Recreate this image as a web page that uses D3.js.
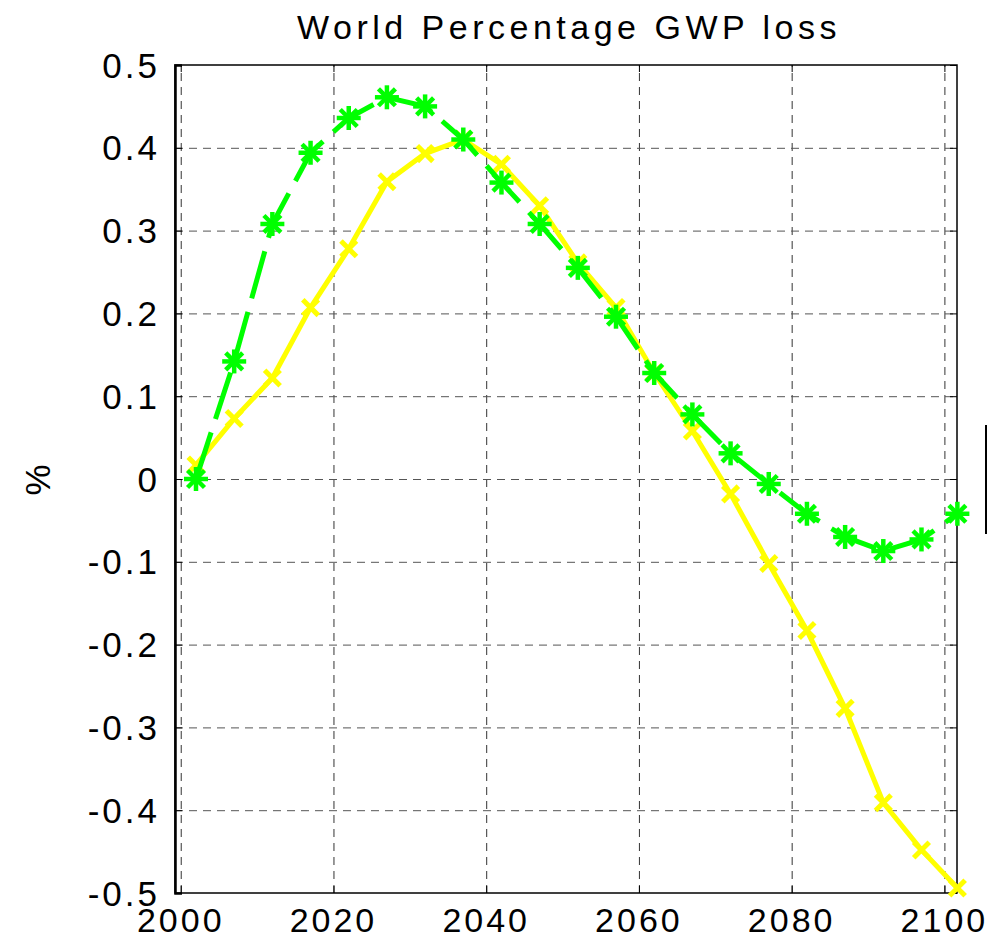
<!DOCTYPE html>
<html>
<head>
<meta charset="utf-8">
<script src="https://cdn.jsdelivr.net/npm/d3@7"></script>
<style>
    body { margin: 0; background: white; }
    text { font-family: "Liberation Sans", Arial, sans-serif; fill: black; }
</style>
</head>
<body>
<div id="gwpChart"></div>
<script>

// data
var years = [2002, 2007, 2012, 2017, 2022, 2027, 2032, 2037, 2042, 2047, 2052,
    2057, 2062, 2067, 2072, 2077, 2082, 2087, 2092, 2097, 2101.7];
var greenLoss = [0, 0.142, 0.308, 0.394, 0.436, 0.461, 0.45, 0.41, 0.358, 0.308, 0.255,
    0.196, 0.128, 0.078, 0.031, -0.006, -0.042, -0.07, -0.087, -0.073, -0.042];
var yellowLoss = [0.017, 0.073, 0.122, 0.207, 0.278, 0.359, 0.393, 0.41, 0.38, 0.33, 0.261,
    0.207, 0.128, 0.058, -0.018, -0.102, -0.183, -0.277, -0.391, -0.448, -0.494];
var xTicks = [2000, 2020, 2040, 2060, 2080, 2100];
var yTicks = [-0.5, -0.4, -0.3, -0.2, -0.1, 0, 0.1, 0.2, 0.3, 0.4, 0.5];
var chartTitle = "World Percentage GWP loss";

function GwpChart(id) {
    var self = this;
    self.sectionId = id;
    self.initVis();
}

GwpChart.prototype.initVis = function () {
    var self = this;

    self.svgWidth = 987;
    self.svgHeight = 939;
    self.plot = { left: 175, right: 957, top: 65, bottom: 893 };

    self.svg = d3.select(`#${self.sectionId}`)
        .append("svg")
        .attr("width", self.svgWidth)
        .attr("height", self.svgHeight);

    self.x = d3.scaleLinear()
        .domain([1999.25, 2101.65])
        .range([self.plot.left, self.plot.right]);

    self.y = d3.scaleLinear()
        .domain([-0.5, 0.5])
        .range([self.plot.bottom, self.plot.top]);

    self.drawAxes();
    self.drawSeries(yellowLoss, "#ffff00", null, "x");
    self.drawSeries(greenLoss, "#00ff00", "49,14", "star");

    // title + y label
    self.svg.append("text")
        .attr("x", 569)
        .attr("y", 39)
        .attr("text-anchor", "middle")
        .style("font-size", "34px")
        .style("letter-spacing", "4.5px")
        .text(chartTitle);

    self.svg.append("text")
        .attr("transform", "translate(50,480) rotate(-90)")
        .attr("text-anchor", "middle")
        .style("font-size", "35px")
        .text("%");

    // edge of the legend box that got cut off
    self.svg.append("line")
        .attr("x1", 986).attr("x2", 986)
        .attr("y1", 425).attr("y2", 534)
        .attr("stroke", "black")
        .attr("stroke-width", 2);
}

GwpChart.prototype.drawAxes = function () {
    var self = this;
    var p = self.plot;

    // dashed grid
    self.svg.append("g")
        .attr("class", "xGrid")
        .attr("transform", `translate(0,${p.bottom})`)
        .call(d3.axisBottom(self.x).tickValues(xTicks).tickSize(-(p.bottom - p.top)).tickFormat(""))
        .call(g => g.select(".domain").remove())
        .selectAll("line")
        .attr("stroke", "#333")
        .attr("stroke-dasharray", "8,6");

    self.svg.append("g")
        .attr("class", "yGrid")
        .attr("transform", `translate(${p.left},0)`)
        .call(d3.axisLeft(self.y).tickValues(yTicks.slice(1, -1)).tickSize(-(p.right - p.left)).tickFormat(""))
        .call(g => g.select(".domain").remove())
        .selectAll("line")
        .attr("stroke", "#555")
        .attr("stroke-dasharray", "8,6");

    // frame
    self.svg.append("rect")
        .attr("x", p.left)
        .attr("y", p.top)
        .attr("width", p.right - p.left)
        .attr("height", p.bottom - p.top)
        .attr("fill", "none")
        .attr("stroke", "black")
        .attr("stroke-width", 1.5);

    // inner ticks on all four sides
    self.svg.append("g")
        .attr("transform", `translate(${p.left},0)`)
        .call(d3.axisRight(self.y).tickValues(yTicks).tickSize(7).tickFormat(""))
        .call(g => g.select(".domain").attr("stroke-width", 2.5));
    self.svg.append("g")
        .attr("transform", `translate(${p.right},0)`)
        .call(d3.axisLeft(self.y).tickValues(yTicks).tickSize(7).tickFormat(""))
        .call(g => g.select(".domain").remove());
    self.svg.append("g")
        .attr("transform", `translate(0,${p.bottom})`)
        .call(d3.axisTop(self.x).tickValues(xTicks).tickSize(7).tickFormat(""))
        .call(g => g.select(".domain").remove());
    self.svg.append("g")
        .attr("transform", `translate(0,${p.top})`)
        .call(d3.axisBottom(self.x).tickValues(xTicks).tickSize(7).tickFormat(""))
        .call(g => g.select(".domain").remove());

    // tick labels
    self.svg.append("g")
        .selectAll("text")
        .data(yTicks)
        .join("text")
        .attr("x", 160)
        .attr("y", d => self.y(d))
        .attr("dy", "0.36em")
        .attr("text-anchor", "end")
        .style("font-size", "35px")
        .style("letter-spacing", "3px")
        .text(d => d === 0 ? "0" : d3.format(".1f")(d).replace("−", "-"));

    self.svg.append("g")
        .selectAll("text")
        .data(xTicks)
        .join("text")
        .attr("x", d => self.x(d))
        .attr("y", 932)
        .attr("text-anchor", "middle")
        .style("font-size", "34px")
        .style("letter-spacing", "3px")
        .text(d => d);
}

GwpChart.prototype.drawSeries = function (values, colour, dash, marker) {
    var self = this;
    var pts = years.map((yr, i) => [yr, values[i]]);

    var line = d3.line()
        .x(d => self.x(d[0]))
        .y(d => self.y(d[1]));

    self.svg.append("path")
        .datum(pts)
        .attr("fill", "none")
        .attr("stroke", colour)
        .attr("stroke-width", 5)
        .attr("stroke-dasharray", dash)
        .attr("d", line);

    // markers: x = two diagonals, star = x plus +
    var arms = marker == "x" ? [45, 135] : [0, 45, 90, 135];
    var len = marker == "x" ? 11 : 12;

    var marks = self.svg.append("g")
        .selectAll("g")
        .data(pts)
        .join("g")
        .attr("transform", d => `translate(${self.x(d[0])},${self.y(d[1])})`);

    arms.forEach(function (a) {
        var r = a * Math.PI / 180;
        marks.append("line")
            .attr("x1", -len * Math.cos(r)).attr("y1", -len * Math.sin(r))
            .attr("x2", len * Math.cos(r)).attr("y2", len * Math.sin(r))
            .attr("stroke", colour)
            .attr("stroke-width", marker == "x" ? 5 : 4.5);
    });
}

var chart = new GwpChart("gwpChart");

</script>
</body>
</html>
